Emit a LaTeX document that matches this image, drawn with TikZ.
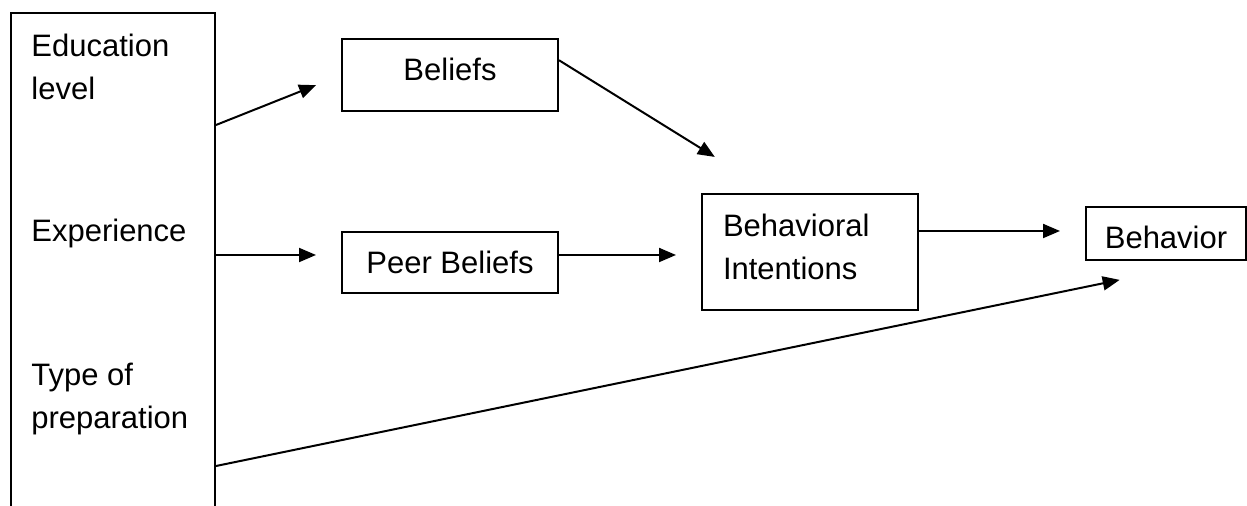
\documentclass[tikz,border=0pt]{standalone}
\usepackage{fontspec}
\setmainfont{Liberation Sans}
\usetikzlibrary{arrows.meta, calc}
\tikzstyle{construct} = [rectangle, draw, line width=1pt, inner sep=0pt, text height=21pt]
\tikzstyle{factor} = [anchor=base west, align=left, inner sep=0pt]
\tikzstyle{connector} = [draw, line width=1pt, -{Triangle[length=8.5pt, width=7pt]}]

\begin{document}
\begin{tikzpicture}[x=0.5pt, y=-0.5pt, style={font=\fontsize{15.5}{21.5}\selectfont}]
            \useasboundingbox (0,0) rectangle (1247,506);
            \clip (0,0) rectangle (1247,506);

            \node[construct, anchor=north west, minimum width=102pt, minimum height=254pt, text height=0pt] (factors) at (10,12.5) {};
            \node[factor] (edu) at (31,100) {Education\\level};
            \node[factor] (exp) at (31,242) {Experience};
            \node[factor] (prep) at (31,429) {Type of\\preparation};

            \node[construct, minimum width=108pt, text depth=15.25pt] (beliefs) at (450,75.25) {Beliefs};
            \node[construct, minimum width=108pt, text depth=9.5pt] (peer) at (450,262.5) {Peer Beliefs};
            \node[construct, text width=87pt, inner xsep=10.5pt, align=left, text height=21.5pt, text depth=36.5pt] (intent) at (810,252) {Behavioral\\Intentions};
            \node[construct, minimum width=80pt, text depth=5.5pt] (behavior) at (1166,233.5) {Behavior};

            \coordinate (eduOut) at (factors.east |- 0,125);
            \coordinate (expOut) at (factors.east |- 0,255);
            \coordinate (prepOut) at (factors.east |- 0,466);

            \draw[connector, shorten >=13.4pt] (eduOut) -- (beliefs.west);
            \draw[connector, shorten >=12.5pt] (expOut) -- (expOut -| peer.west);
            \draw[connector, shorten >=34.2pt] ([yshift=7.5pt]beliefs.east) -- ($(intent.north west)!0.33!(intent.north east)$);
            \draw[connector, shorten >=12.5pt] ([yshift=3.75pt]peer.east) -- ([yshift=-1.5pt]intent.west);
            \draw[connector, shorten >=12.5pt] ([yshift=10.5pt]intent.east) -- ([yshift=1.25pt]behavior.west);
            \draw[connector, shorten >=46.8pt] (prepOut) -- ($(behavior.south west)!0.78!(behavior.south east)$);
        \end{tikzpicture}
\end{document}
